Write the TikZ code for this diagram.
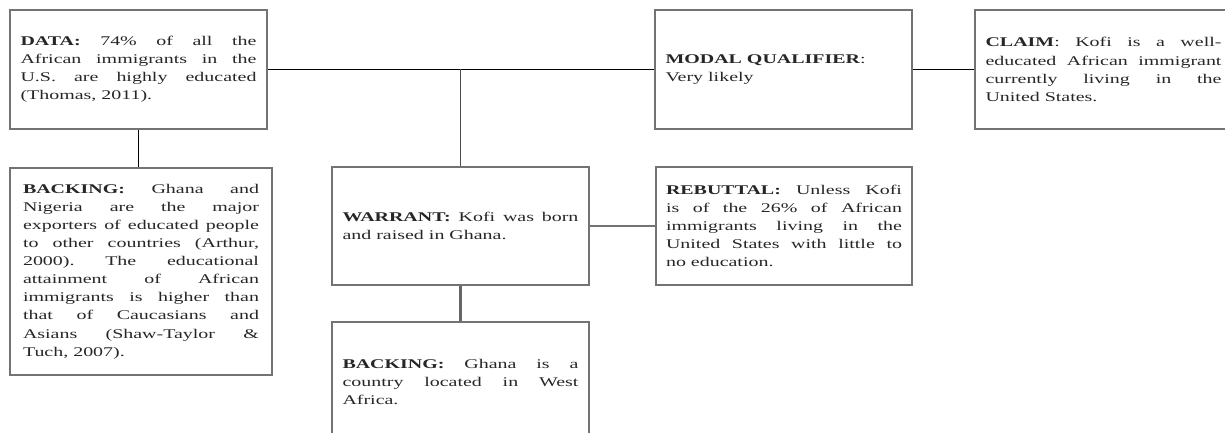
\documentclass[tikz,border=0pt]{standalone}
\usepackage{graphicx}
\usepackage{fontspec}
\setmainfont{Liberation Serif}
% Widened serif text block used inside every box
\newcommand\argtext[1]{\scalebox{1.5}[1]{\parbox{157.3pt}{\fontsize{13.3}{18.1}\selectfont
  \frenchspacing\tolerance=10000\hbadness=10000\color{black!85}#1}}}
\begin{document}
\begin{tikzpicture}[x=1pt,y=-1pt,
  argbox/.style={draw=black!55, line width=1.1pt, inner sep=0pt,
    minimum width=257pt, minimum height=119pt},
  mainlink/.style={draw=black, line width=1.1pt},
  sidelink/.style={draw=black!55, line width=1.6pt},
  downlink/.style={draw=black!60, line width=2.4pt}]
\useasboundingbox (0,0) rectangle (1225,433);

\node[argbox] (data) at (138.5,69.5) {\argtext{\textbf{DATA:} 74\% of all the\linebreak
  African immigrants in the\linebreak U.S. are highly educated\linebreak (Thomas, 2011).}};

\node[argbox, minimum width=262pt, minimum height=207pt] (back1) at (141,271.5)
  {\argtext{\textbf{BACKING:} Ghana and\linebreak Nigeria are the major\linebreak
  exporters of educated people\linebreak to other countries (Arthur,\linebreak
  2000). The educational\linebreak attainment of African\linebreak
  immigrants is higher than\linebreak that of Caucasians and\linebreak
  Asians (Shaw-Taylor \&\linebreak Tuch, 2007).}};

\node[argbox, minimum height=118pt] (warrant) at (460.5,226)
  {\argtext{\textbf{WARRANT:} Kofi was born\linebreak and raised in Ghana.}};

\node[argbox, minimum height=120pt] (back2) at (460.5,382)
  {\argtext{\textbf{BACKING:} Ghana is a\linebreak country located in West\linebreak Africa.}};

\node[argbox, minimum width=256pt, minimum height=118pt] (rebuttal) at (784,226)
  {\argtext{\textbf{REBUTTAL:} Unless Kofi\linebreak is of the 26\% of African\linebreak
  immigrants living in the\linebreak United States with little to\linebreak no education.}};

\node[argbox] (modal) at (783.5,69.5)
  {\argtext{\textbf{MODAL QUALIFIER}:\\Very likely}};

\node[argbox] (claim) at (1103.5,69.5)
  {\argtext{\textbf{CLAIM}: Kofi is a well-\linebreak educated African immigrant\linebreak
  currently living in the\linebreak United States.}};

% connectors
\draw[mainlink] (data.east) -- (modal.west);
\draw[mainlink] (modal.east) -- (claim.west);
\coordinate (j) at (warrant.north |- data.east);
\draw[mainlink, draw=black!70] (j) -- (warrant.north);
\draw[mainlink] (data.south) -- (data.south |- back1.north);
\draw[sidelink] (warrant.east) -- (rebuttal.west);
\draw[downlink] (warrant.south) -- (back2.north);
\end{tikzpicture}
\end{document}
